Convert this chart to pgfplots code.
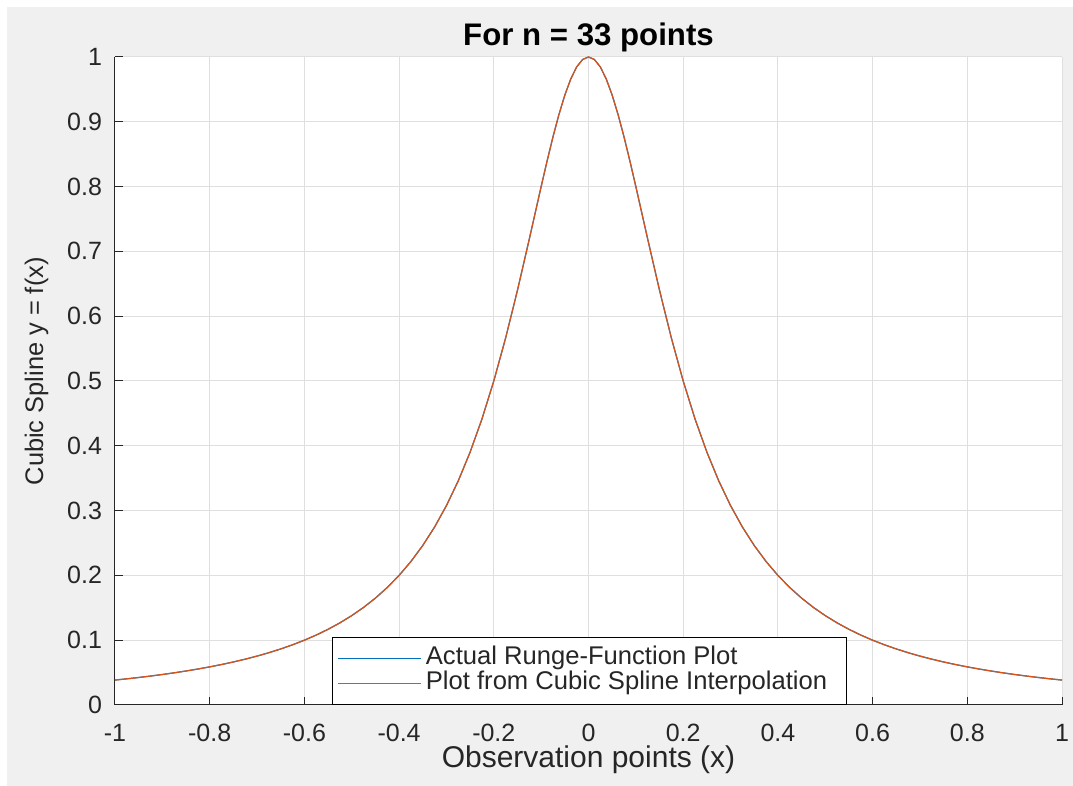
\documentclass[border=0pt]{standalone}
\usepackage{fontspec}
\setmainfont{Liberation Sans}
\usepackage{pgfplots}
\usepackage{pgfplotstable}
\pgfplotsset{compat=1.18}
\definecolor{figbg}{RGB}{240,240,240}
\definecolor{axdark}{RGB}{38,38,38}
\definecolor{gridc}{RGB}{223,223,223}
\definecolor{mblue}{rgb}{0,0.447,0.741}
\definecolor{morange}{rgb}{0.85,0.325,0.098}
\pgfplotstableread{
x y
-1 0.038462
-0.975 0.040379
-0.95 0.042440
-0.925 0.044662
-0.9 0.047059
-0.875 0.049652
-0.85 0.052459
-0.825 0.055507
-0.8 0.058824
-0.775 0.062439
-0.75 0.066390
-0.725 0.070718
-0.7 0.075472
-0.675 0.080706
-0.65 0.086486
-0.625 0.092891
-0.6 0.1
-0.575 0.107925
-0.55 0.116788
-0.525 0.126733
-0.5 0.137931
-0.475 0.150588
-0.45 0.164948
-0.425 0.181303
-0.4 0.2
-0.375 0.221453
-0.35 0.246154
-0.325 0.274678
-0.3 0.307692
-0.275 0.345946
-0.25 0.390244
-0.225 0.441379
-0.2 0.5
-0.175 0.566372
-0.15 0.64
-0.125 0.719101
-0.1 0.8
-0.0875 0.839344
-0.075 0.876712
-0.0625 0.911032
-0.05 0.941176
-0.0375 0.966040
-0.025 0.984615
-0.0125 0.996109
0 1
0.0125 0.996109
0.025 0.984615
0.0375 0.966040
0.05 0.941176
0.0625 0.911032
0.075 0.876712
0.0875 0.839344
0.1 0.8
0.125 0.719101
0.15 0.64
0.175 0.566372
0.2 0.5
0.225 0.441379
0.25 0.390244
0.275 0.345946
0.3 0.307692
0.325 0.274678
0.35 0.246154
0.375 0.221453
0.4 0.2
0.425 0.181303
0.45 0.164948
0.475 0.150588
0.5 0.137931
0.525 0.126733
0.55 0.116788
0.575 0.107925
0.6 0.1
0.625 0.092891
0.65 0.086486
0.675 0.080706
0.7 0.075472
0.725 0.070718
0.75 0.066390
0.775 0.062439
0.8 0.058824
0.825 0.055507
0.85 0.052459
0.875 0.049652
0.9 0.047059
0.925 0.044662
0.95 0.042440
0.975 0.040379
1 0.038462
}\runge
\begin{document}
\begin{tikzpicture}
\useasboundingbox (0,0) rectangle (536.5pt,393pt);
\fill[white] (0,0) rectangle (536.5pt,393pt);
\fill[figbg] (3.5pt,0) rectangle (536.5pt,389.5pt);
\begin{axis}[
  at={(57.5pt,40.5pt)}, anchor=south west,
  scale only axis, width=473.5pt, height=324pt,
  xmin=-1, xmax=1, ymin=0, ymax=1,
  xtick={-1,-0.8,...,1.01}, ytick={0,0.1,...,1.01},
  axis x line*=bottom, axis y line*=left,
  axis line style={axdark, line width=0.5pt, -},
  axis background/.style={fill=white},
  tick align=inside, major tick length=4pt,
  tick style={axdark, line width=0.5pt},
  grid=major, major grid style={gridc, line width=0.5pt},
  /pgf/number format/assume math mode=true,
  ticklabel style={font=\fontsize{12.5}{14}\selectfont, text=axdark},
  xticklabel style={anchor=base, yshift=-18.5pt, inner ysep=0pt},
  yticklabel style={xshift=-3pt},
  every axis title shift=0pt,
  title={\textbf{For n = 33 points}},
  title style={font=\fontsize{15.6}{17}\selectfont, text=black,
    at={(axis description cs:0.5,1.0185)}, anchor=base, inner ysep=0pt},
  xlabel={Observation points (x)},
  ylabel={Cubic Spline y = f(x)},
  xlabel style={font=\fontsize{15}{17}\selectfont, text=axdark,
    at={(axis description cs:0.5,-0.0972)}, anchor=base, inner ysep=0pt},
  ylabel style={font=\fontsize{12.7}{14}\selectfont, text=axdark,
    at={(axis description cs:-0.076,0.515)}, anchor=base, inner ysep=0pt},
  legend style={at={(0.501,0)}, anchor=south, draw=black, fill=white,
    font=\fontsize{12.8}{13}\selectfont, text=axdark, line width=0.5pt,
    inner xsep=2.5pt, inner ysep=4.5pt, row sep=0.5pt,
    nodes={inner xsep=2.2pt, inner ysep=0pt, text height=9pt, text depth=3pt},
    cells={anchor=west}},
  legend image code/.code={\draw[#1, line width=0.6pt] (0,0) -- (41.5pt,0);},
]
\addplot[mblue, line width=0.6pt] table[x=x, y=y] {\runge};
\addlegendentry{Actual Runge-Function Plot}
\addplot[morange, line width=0.6pt] table[x=x, y=y] {\runge};
\addlegendentry{Plot from Cubic Spline Interpolation\hspace*{5pt}}
\end{axis}
\end{tikzpicture}
\end{document}
